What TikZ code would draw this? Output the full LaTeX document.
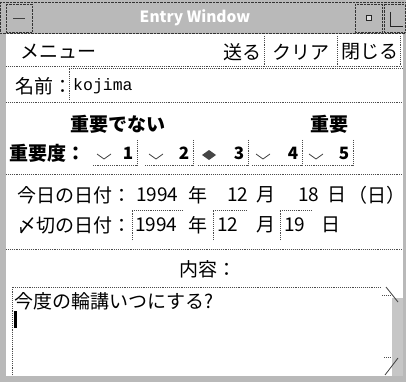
\documentclass[tikz,border=0pt]{standalone}
\usepackage{fontspec}
\setmainfont{Noto Sans CJK JP}
\newfontfamily\ttyfont{Liberation Mono}
\usetikzlibrary{positioning}
\newcommand{\jp}{\fontsize{19}{21}\selectfont}
\newcommand{\jpb}{\fontsize{19}{21}\selectfont\bfseries}

\begin{document}
\begin{tikzpicture}[x=1pt,y=-1pt,
  every node/.style={inner sep=0pt,font=\jp},
  lbl/.style={anchor=west},
  sep/.style={densely dotted,gray!60!black,line width=0.9pt},
  frame/.style={fill=gray!55,draw=gray!40!black,densely dotted},
  tick/.style={line width=0.8pt,gray!50!black}]
\useasboundingbox (0,0) rectangle (406,382);
% window frame and title bar
\fill [gray!55] (0,0) rectangle (406,382);
\fill [white] (6,34) rectangle (403,376);
\draw [frame] (0,2) rectangle (406,33);
\draw [frame] (6,4) rectangle (32,32);
\draw [tick] (13,18) -- (25,18);
\draw [frame] (355,4) rectangle (382,32);
\draw [gray!30!black,fill=gray!25] (366,15) rectangle ++(5,5);
\draw [frame] (384,4) rectangle (405,32);
\draw [gray!30!black] (390,12) -- (390,26) -- (403,26);
\node [font=\fontsize{15.5}{17}\selectfont\bfseries,text=white] (title) at (195,18) {Entry Window};
% menu bar
\node [lbl] (menu) at (20,52) {メニュー};
\node (btnsend) at (242,52) {送る};
\node (btnclear) at (301,52) {クリア};
\node (btnclose) at (370,52) {閉じる};
\draw [sep] (264,36) -- (264,66);
\draw [sep] (337,36) -- (337,66);
\draw [sep] (400,36) -- (400,66);
\draw [sep] (6,66) -- (403,66);
% name
\node [lbl] (namelbl) at (15,86) {名前：};
\draw [sep] (69,100) -- (69,68) -- (403,68);
\node [lbl,font=\ttyfont\fontsize{16.5}{18}\selectfont] (name) at (73,86) {kojima};
\draw [sep] (6,102) -- (403,102);
% importance
\node [font=\jpb] (low) at (118,124) {重要でない};
\node [font=\jpb] (high) at (329,124) {重要};
\node [lbl,font=\jpb] (prio) at (9,153) {重要度：};
\foreach \i/\x/\r in {1/93/137,2/145/193,3/198/248,4/252/302,5/305/353}{
  \draw [sep] (\r,140) -- (\r,165) -- (\x,165);
  \node [font=\fontsize{17}{19}\selectfont\bfseries] (prio\i) at (\r-9,153) {\i};
  \ifnum\i=3
    \fill [gray!55!black] (\x+11,150) -- (\x+18,155) -- (\x+11,160) -- (\x+4,155) -- cycle;
  \else
    \draw [tick] (\x+4,154) -- (\x+11,159) -- (\x+18,154);
  \fi
}
\draw [sep] (6,174) -- (403,174);
% dates
\node [lbl] (today) at (17,195) {今日の日付：};
\node [lbl] (ty) at (136,195) {1994};
\node (tyk) at (198,195) {年};
\node [lbl] (tm) at (227,195) {12};
\node (tmk) at (266,195) {月};
\node [lbl] (td) at (298,195) {18};
\node (tdk) at (337,195) {日};
\node [lbl] (tw) at (348,195) {（日）};
\node [lbl] (due) at (17,225) {〆切の日付：};
\draw [sep] (132,240) -- (132,210) -- (183,210);
\node [lbl] (dy) at (135,225) {1994};
\node (dyk) at (198,225) {年};
\draw [sep] (213,240) -- (213,210) -- (246,210);
\node [lbl] (dm) at (217,225) {12};
\node (dmk) at (266,225) {月};
\draw [sep] (280,240) -- (280,210) -- (312,210);
\node [lbl] (dd) at (284,225) {19};
\node (ddk) at (331,225) {日};
\draw [sep] (6,249) -- (403,249);
% contents
\node (body) at (208,269) {内容：};
\draw [sep] (12,375) -- (12,287) -- (381,287);
\node [lbl] (memo) at (14,301) {今度の輪講いつにする?};
\fill [black] (14,311) rectangle (17,328);
% scroll bar
\fill [gray!45] (392,298) rectangle (403,376);
\draw [sep] (382,295) -- (390,295);
\draw [gray!50!black,line width=0.8pt] (386,287) -- (398,302);
\draw [sep] (384,357) -- (390,357);
\draw [gray!50!black,line width=0.8pt] (385,375) -- (398,358);
\end{tikzpicture}
\end{document}
